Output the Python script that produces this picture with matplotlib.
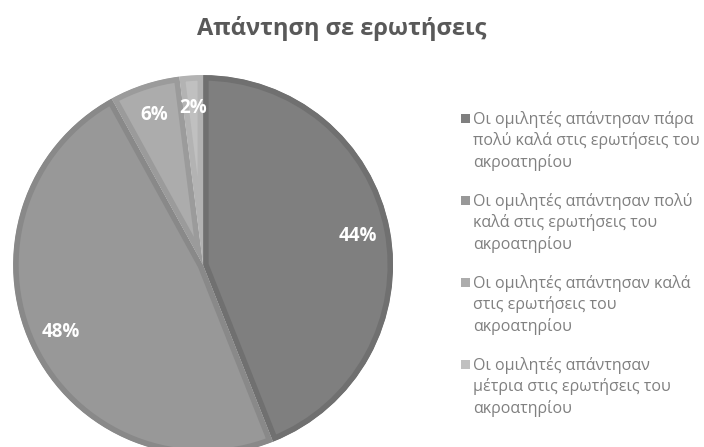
import matplotlib
matplotlib.use("Agg")
import matplotlib.pyplot as plt
from matplotlib.patches import Rectangle

labels = [
    "Οι ομιλητές απάντησαν πάρα\nπολύ καλά στις ερωτήσεις του\nακροατηρίου",
    "Οι ομιλητές απάντησαν πολύ\nκαλά στις ερωτήσεις του\nακροατηρίου",
    "Οι ομιλητές απάντησαν καλά\nστις ερωτήσεις του\nακροατηρίου",
    "Οι ομιλητές απάντησαν\nμέτρια στις ερωτήσεις του\nακροατηρίου",
]
shares = [44, 48, 6, 2]
fill_colors = ["#7f7f7f", "#989898", "#acacac", "#c0c0c0"]
edge_colors = ["#707070", "#898989", "#9b9b9b", "#b3b3b3"]

plt.rcParams["font.family"] = ["Open Sans", "DejaVu Sans"]

fig = plt.figure(figsize=(7.04, 4.47), dpi=100)
ax = fig.add_axes([0.0185, -0.018, 0.54, 0.85])

wedges, texts, autotexts = ax.pie(
    shares, colors=fill_colors, startangle=90, counterclock=False,
    autopct="%1.0f%%", pctdistance=0.83,
    textprops=dict(color="white", fontsize=13.5, fontweight="bold"),
)
for w, ec in zip(wedges, edge_colors):
    w.set_edgecolor(ec)
    w.set_linewidth(8)
    w.set_joinstyle("miter")
    w.set_clip_on(True)
    w.set_clip_path(w)
ax.set_xlim(-1, 1)
ax.set_ylim(-1, 1)
ax.set_aspect("equal")

fig.text(0.486, 0.936, "Απάντηση σε ερωτήσεις", ha="center", va="center",
         fontsize=17, fontweight="bold", color="#595959")

# legend drawn by hand so the marker sits on the first line of each entry
W, H = 704, 447
top = 113
pitch = 82
for i, (lab, c) in enumerate(zip(labels, fill_colors)):
    y = top + i * pitch
    fig.patches.append(Rectangle((461 / W, 1 - (y + 10) / H), 9 / W, 9 / H,
                                 transform=fig.transFigure, facecolor=c,
                                 edgecolor="none"))
    fig.text(473 / W, 1 - (y - 2) / H, lab, ha="left", va="top",
             fontsize=11.5, color="#808080", linespacing=1.33)

fig.savefig("out.png", dpi=100)
